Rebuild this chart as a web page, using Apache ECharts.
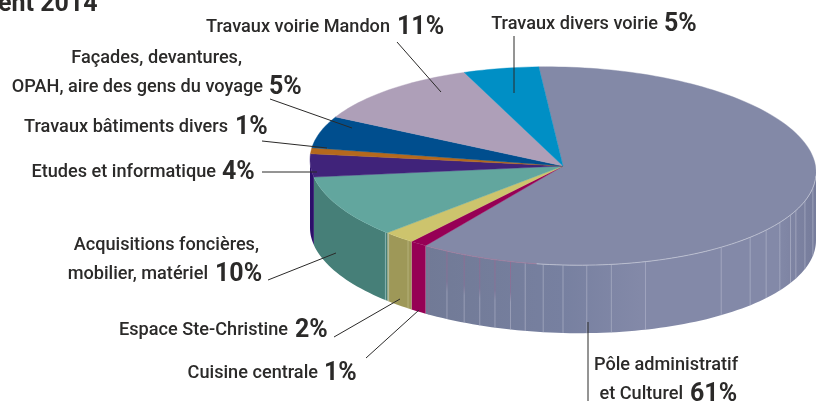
<!DOCTYPE html>
<html><head><meta charset="utf-8">
<style>html,body{margin:0;padding:0;background:#fff}#c{width:816px;height:403px}</style>
<script src="https://cdn.jsdelivr.net/npm/echarts@6/dist/echarts.min.js"></script>
</head><body><div id="c"></div>
<script>
// Data (slice sizes estimated from the drawn angles; labels are the printed rounded values)
const categories = ['Pôle administratif et Culturel','Cuisine centrale','Espace Ste-Christine','Acquisitions foncières, mobilier, matériel','Etudes et informatique','Travaux bâtiments divers','Façades, devantures, OPAH, aire des gens du voyage','Travaux voirie Mandon','Travaux divers voirie'];
const values = [60.7,1.08,2,10,3.75,0.97,5.3,11.4,4.86];
const percentLabels = ['61%','1%','2%','10%','4%','1%','5%','11%','5%'];
const titleText = 'ent 2014';

const topColors = ['#8389a7','#960055','#cdc46d','#62a69e','#40237a','#b5691d','#004e8e','#ae9fb8','#008fc5'];
const sideColors = ['#7c82a1','#960055','#9e9858','#467f78','#2c0f6a','#b5691d','#004e8e','#ae9fb8','#008fc5'];

// Geometry of the drawn disc
const CX=563, CY=166, RX=253, RY=99, DEPTH=68, START=-5.5, SHEAR=0.025;
const total = values.reduce((a,b)=>a+b,0);
const RAD=Math.PI/180;
const px=(deg)=>CX+RX*Math.sin(deg*RAD);
const py=(deg,d)=>CY-RY*Math.cos(deg*RAD)+SHEAR*RX*Math.sin(deg*RAD)+(d||0);
const SEAMS=[99,107,113,116,121,126.6,132.3,141.3,161,169,174.6,180,184.5,188.6,192,195.6,199.2,203,207.3];

function arcPts(a,b,d){const n=Math.max(2,Math.ceil(Math.abs(b-a)/1.5));const o=[];
  for(let i=0;i<=n;i++){const t=a+(b-a)*i/n;o.push([px(t),py(t,d)]);}return o;}

function seamLine(t,stroke,w,op){return {type:'line',shape:{x1:px(t),y1:py(t,0),x2:px(t),y2:py(t,DEPTH)},
  style:{stroke:stroke,lineWidth:w,opacity:op},z2:2};}
function seamBar(t,fill,op){return {type:'polygon',shape:{points:[[px(t)-.4,py(t,0)],[px(t)+.4,py(t,0)],[px(t)+.4,py(t,DEPTH)],[px(t)-.4,py(t,DEPTH)]]},
  style:{fill:fill,opacity:op},z2:2};}

function renderSlice(params,api){
  const idx=params.dataIndex, v=api.value(0);
  let s=START; for(let i=0;i<idx;i++) s+=values[i]/total*360;
  const e=s+v/total*360;
  const children=[];
  const a=Math.max(s,90), b=Math.min(e,270);
  if(b>a){
    const pts=arcPts(a,b,0).concat(arcPts(b,a,DEPTH));
    const fill = idx===0 ? {type:'linear',x:0,y:0,x2:1,y2:0,colorStops:[
        {offset:0,color:'#717a96'},{offset:.35,color:'#7780a0'},{offset:.55,color:'#8389a8'},{offset:.9,color:'#8389a8'},{offset:1,color:'#767c9b'}]}
      : sideColors[idx];
    children.push({type:'polygon',shape:{points:pts},style:{fill:fill,stroke:null},z2:1});
    if(idx===0){
      SEAMS.forEach(t=>{
        const fillS = t>190
          ? {type:'linear',x:0,y:0,x2:0,y2:1,colorStops:[{offset:0,color:'#9a6690'},{offset:.45,color:'#8a6f96'},{offset:.6,color:'#a5a9c0'},{offset:1,color:'#a5a9c0'}]}
          : '#b4b8cc';
        children.push(seamBar(t,fillS,t>190?.9:.75));
      });
      children.push(seamLine(212,'#8a6f96',1,.8));
    }
    if(idx===2){ children.push(seamLine(e-.4,'#b8c8bc',1,.8)); children.push(seamLine(s+1,'#c4c08c',.8,.8)); }
    if(idx===3){ children.push(seamLine(s+.6,'#8fb7b5',1,.9)); }
  }
  const top=[[CX,CY]].concat(arcPts(s,e,0));
  children.push({type:'polygon',shape:{points:top},style:{fill:topColors[idx],stroke:topColors[idx],lineWidth:.4},z2:3});
  if(idx===0){
    children.push({type:'polyline',shape:{points:arcPts(92,186,0)},style:{stroke:'#c3c6d6',lineWidth:.8,fill:null},z2:4});
    children.push({type:'polyline',shape:{points:arcPts(186,212.8,0)},style:{stroke:'#a0789a',lineWidth:.8,fill:null},z2:4});
  }
  return {type:'group',children};
}

const INK='#2b2a29';
const TF='500 19px Roboto', PF='700 26px Roboto', SX=0.955, PSX=0.96;
const LABELS=[
 {first:'Pôle administratif',fx:666,fy:365,fa:'center',last:'et Culturel',tx:683,px:690,y:394},
 {last:'Cuisine centrale',tx:318,px:324,y:373},
 {last:'Espace Ste-Christine',tx:288,px:295,y:330},
 {first:'Acquisitions foncières,',fx:259,fy:245,fa:'right',last:'mobilier, matériel',tx:208,px:215,y:274},
 {last:'Etudes et informatique',tx:216,px:222,y:172},
 {last:'Travaux bâtiments divers',tx:228,px:235,y:127},
 {first:'Façades, devantures,',fx:242,fy:58,fa:'right',last:'OPAH, aire des gens du voyage',tx:263,px:269,y:87},
 {last:'Travaux voirie Mandon',tx:390,px:397,y:27},
 {last:'Travaux divers voirie',tx:658,px:664,y:24}
];
const LEADERS=[[588,322,588,401],[366,358,419,310],[334,337,400,299],[268,280,336,253],[262,172,317,172],[262,141,327,148],[270,99,352,128],[397,42,441,92],[514,36,514,93]];

const graphics=[];
function txt(s,x,y,font,align,sx){graphics.push({type:'text',x:x,y:y,scaleX:sx||1,style:{text:s,font:font,fill:INK,textAlign:align,textVerticalAlign:'middle'},z:10});}
LABELS.forEach((l,i)=>{
  if(l.first) txt(l.first,l.fx,l.fy,TF,l.fa,SX);
  txt(l.last,l.tx,l.y,TF,'right',SX);
  txt(percentLabels[i],l.px,l.y,PF,'left',PSX);
});
LEADERS.forEach(p=>graphics.push({type:'line',shape:{x1:p[0],y1:p[1],x2:p[2],y2:p[3]},style:{stroke:'#2b2a29',lineWidth:1},z:9}));
txt(titleText,-2,5,'700 25px Roboto','left',1);

const chart=echarts.init(document.getElementById('c'),null,{renderer:'canvas'});
chart.setOption({
  animation:false,backgroundColor:'#fff',
  graphic:graphics,
  series:[
    {type:'custom',coordinateSystem:'none',silent:true,z:2,data:values.map((v,i)=>({name:categories[i],value:[v]})),renderItem:renderSlice,encode:{value:0}}
  ]
});
</script></body></html>
